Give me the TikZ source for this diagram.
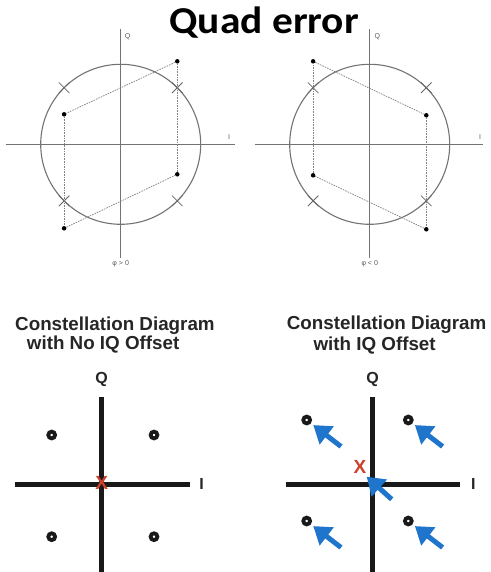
\documentclass[tikz,border=0pt]{standalone}
\usepackage{fontspec}
\setmainfont{Liberation Sans}
\newfontfamily\titlefont{Carlito}
\usepackage{xcolor}
\usetikzlibrary{arrows.meta}

\definecolor{arrowblue}{RGB}{31,116,204}
\definecolor{xred}{RGB}{205,65,45}

\begin{document}
\begin{tikzpicture}[x=1pt, y=-1pt,
    axisline/.style={draw=gray!90!black, line width=0.9pt},
    ring/.style={draw=gray!90!black, line width=1.1pt},
    dot/.style={circle, fill=black, inner sep=0pt, minimum size=4.5pt},
    guide/.style={draw=gray, line width=0.7pt, dash pattern=on 1.6pt off 1pt},
    marker/.style={draw=gray!80!black, line width=0.8pt},
    tinylabel/.style={font=\fontsize{7}{8}\selectfont, text=gray!70!black, inner sep=0pt},
    heading/.style={font=\bfseries\fontsize{18.8}{19}\selectfont, text=black!85, anchor=base west, inner sep=0pt},
    bigaxis/.style={line width=5pt, draw=black!90},
    symbol/.style={circle, draw=black!90, line width=3.8pt, inner sep=0pt, minimum size=6.8pt},
    offsetarrow/.style={line width=5pt, draw=arrowblue, -{Triangle[length=17pt,width=22pt]}},
    xmark/.style={font=\bfseries\fontsize{19}{19}\selectfont, text=xred, inner sep=0pt},
    axislabel/.style={font=\bfseries\fontsize{16}{16}\selectfont, text=black!85, inner sep=0pt}]
\useasboundingbox (0,0) rectangle (490,572);

\node[font=\titlefont\bfseries\fontsize{38}{40}\selectfont, anchor=base, inner sep=0pt] (title) at (264.2,34) {\scalebox{1.09}[1]{Quad error}};

\begin{scope}[shift={(120.7,144.3)}]
\draw[axisline] (-115,0) -- (114,0);
\draw[axisline] (0,-115) -- (0,114);
\draw[ring] (0,0) circle[radius=80];
\foreach \a in {45,135,225,315}
  \draw[marker] (\a:80) ++(-5.3,-5.3) -- ++(10.6,10.6) (\a:80) ++(-5.3,5.3) -- ++(10.6,-10.6);
\node[dot] (a1) at (56.6,-83) {};
\node[dot] (a2) at (-56.6,-30) {};
\node[dot] (a3) at (56.6,30) {};
\node[dot] (a4) at (-56.6,84) {};
\draw[guide] (a1) -- (a2);
\draw[guide] (a2) -- (a4);
\draw[guide] (a4) -- (a3);
\draw[guide] (a3) -- (a1);
\node[tinylabel] (qa) at (7,-108) {Q};
\node[tinylabel] (ia) at (108.5,-7) {I};
\node[tinylabel] (pa) at (0,119) {φ > 0};
\end{scope}

\begin{scope}[shift={(369.7,144.3)}]
\draw[axisline] (-115,0) -- (113,0);
\draw[axisline] (0,-115) -- (0,114);
\draw[ring] (0,0) circle[radius=80];
\foreach \a in {45,135,225,315}
  \draw[marker] (\a:80) ++(-5.3,-5.3) -- ++(10.6,10.6) (\a:80) ++(-5.3,5.3) -- ++(10.6,-10.6);
\node[dot] (b1) at (-56.6,-83) {};
\node[dot] (b2) at (56.6,-29) {};
\node[dot] (b3) at (-56.6,31) {};
\node[dot] (b4) at (56.6,85) {};
\draw[guide] (b1) -- (b2);
\draw[guide] (b2) -- (b4);
\draw[guide] (b4) -- (b3);
\draw[guide] (b3) -- (b1);
\node[tinylabel] (qb) at (7.6,-108) {Q};
\node[tinylabel] (ib) at (110.3,-7) {I};
\node[tinylabel] (pb) at (0,119) {φ < 0};
\end{scope}

\node[heading] (h1) at (15,330) {Constellation Diagram};
\node[heading] (h2) at (26.7,349.5) {with No IQ Offset};
\node[heading] (h3) at (286.7,329.5) {Constellation Diagram};
\node[heading] (h4) at (313.3,350) {with IQ Offset};

\draw[bigaxis] (15,484.3) -- (190,484.3);
\draw[bigaxis] (101.7,397.3) -- (101.7,572);
\node[axislabel] (q1) at (101.7,379.3) {Q};
\node[axislabel] (i1) at (201.7,484.3) {I};
\node[symbol] (s1) at (51.7,435) {};
\node[symbol] (s2) at (154,435) {};
\node[symbol] (s3) at (51.7,536.7) {};
\node[symbol] (s4) at (154,536.7) {};
\node[xmark] (x1) at (101.7,482.5) {X};

\draw[bigaxis] (286,484.3) -- (460,484.3);
\draw[bigaxis] (372.7,397.3) -- (372.7,572);
\node[axislabel] (q2) at (372.7,379.3) {Q};
\node[axislabel] (i2) at (473.3,484.3) {I};
\node[symbol] (r1) at (306.7,420) {};
\node[symbol] (r2) at (408.3,420) {};
\node[symbol] (r3) at (306.7,521) {};
\node[symbol] (r4) at (408.3,521) {};
\node[xmark] (x2) at (360,467) {X};

\coordinate (t1) at (341,446.5);
\coordinate (t2) at (442.6,446.5);
\coordinate (t3) at (341,547.5);
\coordinate (t4) at (442.6,547.5);
\coordinate (t5) at (391.7,499.3);
\coordinate (tip5) at (366.7,476.7);
\draw[offsetarrow, shorten >=3pt] (t1) -- (r1);
\draw[offsetarrow, shorten >=3pt] (t2) -- (r2);
\draw[offsetarrow, shorten >=3pt] (t3) -- (r3);
\draw[offsetarrow, shorten >=3pt] (t4) -- (r4);
\draw[offsetarrow] (t5) -- (tip5);
\end{tikzpicture}
\end{document}
